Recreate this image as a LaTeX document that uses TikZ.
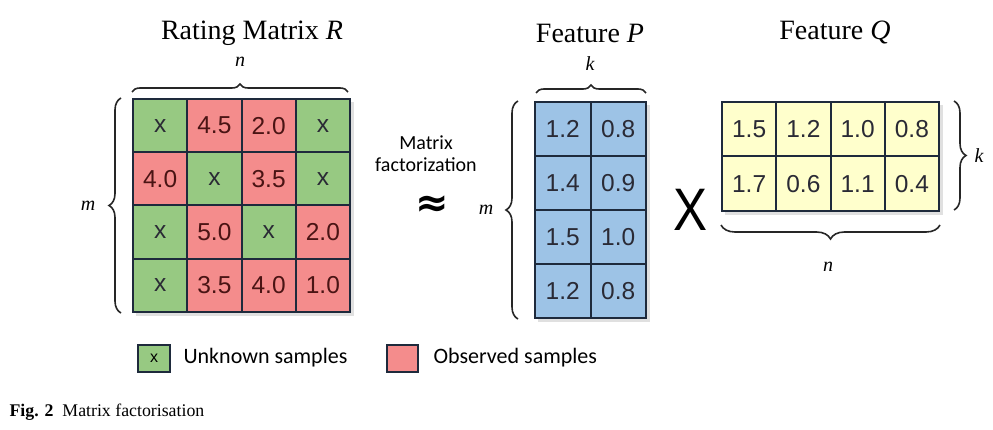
\documentclass[tikz,border=0pt]{standalone}
\usepackage{fontspec}
\setmainfont{Liberation Serif}
\newfontfamily\arialf{Liberation Sans}
\newfontfamily\calibf{Carlito}
\newfontfamily\djvf{DejaVu Sans}
\usetikzlibrary{decorations.pathreplacing}
\definecolor{cg}{HTML}{97C982}
\definecolor{cr}{HTML}{F48C8C}
\definecolor{cb}{HTML}{9DC3E6}
\definecolor{cy}{HTML}{FFFFCC}
\definecolor{cedge}{HTML}{1E2A3C}
\definecolor{cnum}{HTML}{2A2A35}
\definecolor{cmaroon}{HTML}{4A1414}
\tikzset{
  cell/.style={draw=cedge, line width=2pt, minimum width=#1, inner sep=0pt,
    font=\arialf\fontsize{24.5}{24.5}\selectfont, text=cnum},
  cell/.default=54.25pt,
  bracestyle/.style={draw=black!85, line width=1.6pt, decorate, decoration={brace, amplitude=#1}},
  lbl/.style={font=\itshape\fontsize{20}{20}\selectfont},
  title/.style={font=\fontsize{28}{28}\selectfont},
  legtext/.style={font=\calibf\fontsize{22}{22}\selectfont, anchor=west},
  shadow/.style={fill=black!12}
}
\begin{document}
\begin{tikzpicture}[x=1pt,y=-1pt]
\useasboundingbox (0,0) rectangle (993,430);
% shadows
\fill[shadow] (136,102) rectangle (354,316);
\fill[shadow] (538,105) rectangle (650,322);
\fill[shadow] (725,105) rectangle (943,215);
% Matrix R
\foreach \f/\v [count=\i from 0] in {g/x,r/4.5,r/2.0,g/x, r/4.0,g/x,r/3.5,g/x, g/x,r/5.0,g/x,r/2.0, g/x,r/3.5,r/4.0,r/1.0}{
  \pgfmathtruncatemacro\rr{\i/4}
  \pgfmathtruncatemacro\cc{mod(\i,4)}
  \if r\f\def\tc{cmaroon}\else\def\tc{cnum}\fi
  \node[cell, minimum height=53.25pt, fill=c\f, text=\tc] (R\rr\cc) at ({133+54.25*(\cc+0.5)},{99+53.25*(\rr+0.5)}) {\v};
}
% Matrix P
\foreach \v [count=\i from 0] in {1.2,0.8,1.4,0.9,1.5,1.0,1.2,0.8}{
  \pgfmathtruncatemacro\rr{\i/2}
  \pgfmathtruncatemacro\cc{mod(\i,2)}
  \node[cell=55.5pt, minimum height=54pt, fill=cb] (P\rr\cc) at ({535+55.5*(\cc+0.5)},{102+54*(\rr+0.5)}) {\v};
}
% Matrix Q
\foreach \v [count=\i from 0] in {1.5,1.2,1.0,0.8,1.7,0.6,1.1,0.4}{
  \pgfmathtruncatemacro\rr{\i/4}
  \pgfmathtruncatemacro\cc{mod(\i,4)}
  \node[cell, minimum height=54.5pt, fill=cy] (Q\rr\cc) at ({722+54.25*(\cc+0.5)},{102+54.5*(\rr+0.5)}) {\v};
}
% titles
\node[title] (tR) at (252,33) {Rating Matrix \textit{R}};
\node[title] (tP) at (590,33) {Feature \textit{P}};
\node[title] (tQ) at (835,33) {Feature \textit{Q}};
% braces
\draw[bracestyle=8pt] ([yshift=6pt]R00.north west) -- ([yshift=6pt,xshift=-3pt]R03.north east);
\draw[bracestyle=12pt] ([xshift=-11pt]R30.south west) -- ([xshift=-11pt]R00.north west);
\draw[bracestyle=8pt] ([yshift=8pt,xshift=2pt]P00.north west) -- ([yshift=8pt,xshift=-1pt]P01.north east);
\draw[bracestyle=12pt] ([xshift=-16pt]P30.south west) -- ([xshift=-16pt]P00.north west);
\draw[bracestyle=12pt] ([xshift=14pt]Q03.north east) -- ([xshift=14pt,yshift=2pt]Q13.south east);
\draw[bracestyle=14pt] ([yshift=-13pt]Q13.south east) -- ([yshift=-13pt]Q10.south west);
% labels
\node[lbl] (nR) at (240,62) {n};
\node[lbl] (mR) at (88,206) {m};
\node[lbl] (kP) at (590,64) {k};
\node[lbl] (mP) at (486,210) {m};
\node[lbl] (kQ) at (979,156) {k};
\node[lbl] (nQ) at (828,267) {n};
% middle text
\node[font=\calibf\fontsize{20}{20}\selectfont, align=center] (mf) at (426,154) {Matrix\\[2pt]factorization};
\node[font=\djvf\bfseries\fontsize{40}{40}\selectfont] (approx) at (432,206) {≈};
\node[font=\arialf\fontsize{60}{60}\selectfont, xscale=0.85] (times) at (690,210) {X};
% legend
\node[draw=cedge, line width=2pt, fill=cg, minimum width=32pt, minimum height=27pt, inner sep=0pt, font=\arialf\fontsize{16}{16}\selectfont] (lg) at (154,358) {x};
\node[legtext] (lgt) at (180,358) {Unknown samples};
\node[draw=cedge, line width=2pt, fill=cr, minimum width=31pt, minimum height=27pt, inner sep=0pt] (lr) at (402,358) {};
\node[legtext] (lrt) at (430,358) {Observed samples};
% caption
\node[anchor=west, font=\fontsize{17.8}{17.8}\selectfont] (cap) at (6,412) {\textbf{Fig. 2}\enspace Matrix factorisation};
\end{tikzpicture}
\end{document}
